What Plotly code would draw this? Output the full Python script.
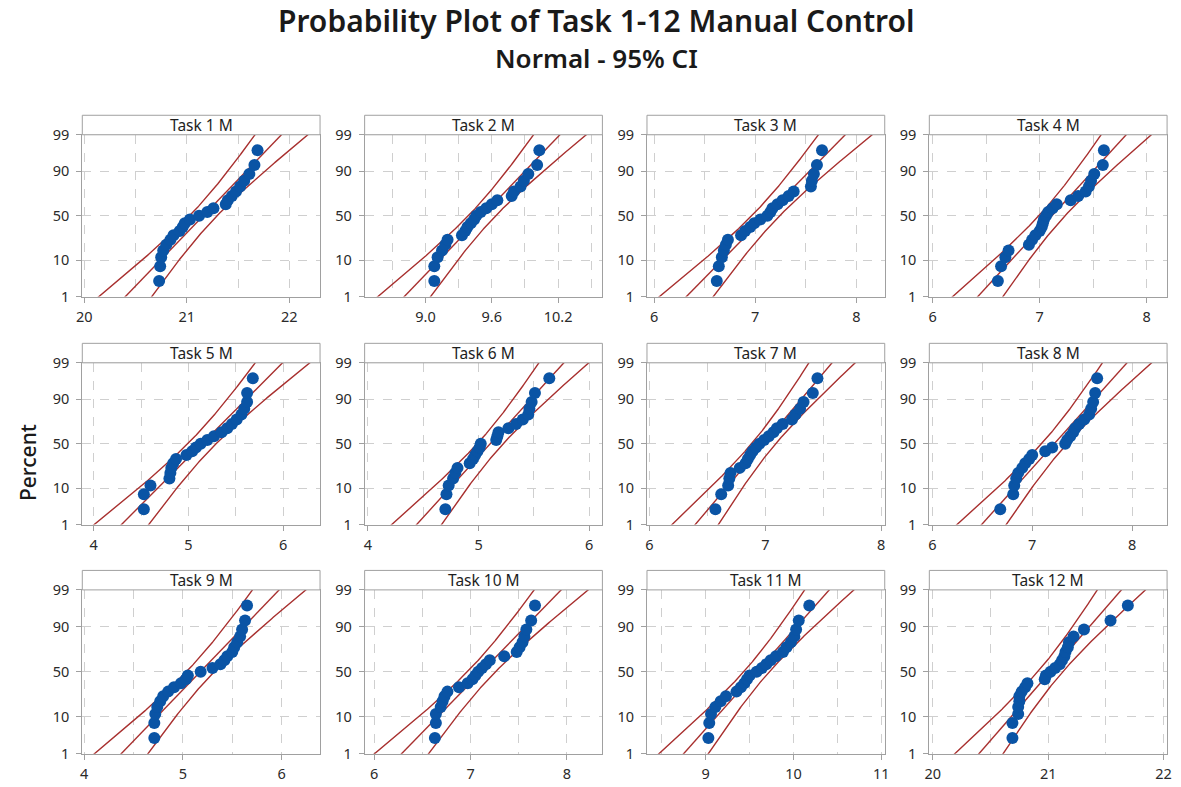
import numpy as np
import plotly.graph_objects as go
from statistics import NormalDist

# ---------------- data ----------------
task_names = ["Task 1 M", "Task 2 M", "Task 3 M", "Task 4 M", "Task 5 M", "Task 6 M",
              "Task 7 M", "Task 8 M", "Task 9 M", "Task 10 M", "Task 11 M", "Task 12 M"]

task1 = [20.73, 20.74, 20.75, 20.77, 20.80, 20.84, 20.87, 20.93, 20.96, 20.98, 21.03, 21.12,
         21.20, 21.26, 21.38, 21.40, 21.44, 21.48, 21.52, 21.56, 21.61, 21.66, 21.69]
task2 = [9.08, 9.08, 9.11, 9.15, 9.18, 9.20, 9.33, 9.36, 9.38, 9.41, 9.44, 9.46,
         9.50, 9.55, 9.60, 9.65, 9.78, 9.80, 9.86, 9.89, 9.93, 10.01, 10.03]
task3 = [6.62, 6.64, 6.67, 6.69, 6.71, 6.73, 6.86, 6.90, 6.95, 6.99, 7.05, 7.12,
         7.15, 7.17, 7.22, 7.27, 7.33, 7.38, 7.55, 7.56, 7.58, 7.61, 7.66]
task4 = [6.61, 6.64, 6.68, 6.71, 6.90, 6.93, 6.96, 7.00, 7.02, 7.03, 7.04, 7.06,
         7.08, 7.12, 7.16, 7.29, 7.36, 7.43, 7.46, 7.48, 7.51, 7.59, 7.60]
task5 = [4.53, 4.53, 4.60, 4.80, 4.81, 4.82, 4.84, 4.87, 4.98, 5.04, 5.08, 5.13,
         5.20, 5.27, 5.35, 5.41, 5.46, 5.51, 5.56, 5.59, 5.62, 5.62, 5.68]
task6 = [4.70, 4.71, 4.73, 4.77, 4.79, 4.81, 4.92, 4.95, 4.97, 4.99, 5.01, 5.02,
         5.16, 5.17, 5.18, 5.27, 5.34, 5.40, 5.45, 5.46, 5.48, 5.51, 5.64]
task7 = [6.57, 6.62, 6.68, 6.69, 6.70, 6.78, 6.83, 6.85, 6.87, 6.89, 6.92, 6.95,
         6.99, 7.03, 7.07, 7.10, 7.15, 7.23, 7.26, 7.30, 7.33, 7.41, 7.45]
task8 = [6.68, 6.81, 6.82, 6.84, 6.86, 6.90, 6.93, 6.97, 7.00, 7.13, 7.20, 7.33,
         7.35, 7.38, 7.41, 7.43, 7.47, 7.52, 7.57, 7.59, 7.61, 7.63, 7.65]
task9 = [4.71, 4.71, 4.72, 4.74, 4.77, 4.80, 4.85, 4.91, 4.98, 5.03, 5.05, 5.18,
         5.30, 5.38, 5.42, 5.45, 5.50, 5.52, 5.55, 5.58, 5.60, 5.63, 5.65]
task10 = [6.63, 6.64, 6.64, 6.69, 6.71, 6.73, 6.76, 6.88, 6.97, 7.02, 7.05, 7.08,
          7.12, 7.16, 7.20, 7.35, 7.48, 7.51, 7.54, 7.56, 7.58, 7.63, 7.67]
task11 = [9.03, 9.04, 9.06, 9.11, 9.17, 9.23, 9.35, 9.40, 9.44, 9.47, 9.50, 9.58,
          9.64, 9.69, 9.74, 9.80, 9.88, 9.92, 9.97, 10.01, 10.03, 10.06, 10.18]
task12 = [20.69, 20.69, 20.74, 20.74, 20.75, 20.75, 20.77, 20.80, 20.82, 20.97, 20.98, 21.02,
          21.06, 21.10, 21.12, 21.14, 21.15, 21.17, 21.18, 21.22, 21.31, 21.54, 21.69]

all_tasks = [task1, task2, task3, task4, task5, task6,
             task7, task8, task9, task10, task11, task12]

# axis tick values / labels per panel
x_major = [[20, 21, 22], [9.0, 9.6, 10.2], [6, 7, 8], [6, 7, 8],
           [4, 5, 6], [4, 5, 6], [6, 7, 8], [6, 7, 8],
           [4, 5, 6], [6, 7, 8], [9, 10, 11], [20, 21, 22]]
x_major_text = [["20", "21", "22"], ["9.0", "9.6", "10.2"], ["6", "7", "8"], ["6", "7", "8"],
                ["4", "5", "6"], ["4", "5", "6"], ["6", "7", "8"], ["6", "7", "8"],
                ["4", "5", "6"], ["6", "7", "8"], ["9", "10", "11"], ["20", "21", "22"]]
x_minor = [[20.5, 21.5], [8.7, 9.3, 9.9, 10.5], [6.5, 7.5], [6.5, 7.5],
           [4.5, 5.5], [4.5, 5.5], [6.5, 7.5], [6.5, 7.5],
           [4.5, 5.5], [6.5, 7.5], [8.5, 9.5, 10.5], [20.5, 21.5]]
x_ranges = [[19.98, 22.30], [8.45, 10.60], [5.93, 8.28], [5.97, 8.19],
            [3.88, 6.39], [3.97, 6.12], [5.98, 8.03], [5.97, 8.35],
            [3.98, 6.39], [5.90, 8.37], [8.33, 11.04], [19.97, 22.03]]
y_percent_ticks = [1, 10, 50, 90, 99]

# ---------------- layout constants ----------------
W, H = 1181, 787
col_left = [77, 362, 647, 932]
panel_w = 240
row_plot_top = [127, 361, 594]
row_plot_bot = [293, 527, 762]
header_h = 20

nd = NormalDist()
zlo, zhi = nd.inv_cdf(0.01), nd.inv_cdf(0.99)
BLUE = "#0A54A5"
RED = "#A8302F"
GRID = "#CFCFCF"
AXIS = "#A0A0A0"
FONT = "Noto Sans"
TXT = "#2a2a2a"

fig = go.Figure()
shapes = []
annotations = []

zz = np.linspace(zlo - 0.05, zhi + 0.05, 200)

for k, vals in enumerate(all_tasks):
    r, c = divmod(k, 4)
    idx = "" if k == 0 else str(k + 1)
    xa, ya = "x" + idx, "y" + idx
    x = np.sort(np.array(vals, dtype=float))
    n = len(x)
    pr = (np.arange(1, n + 1) - 0.3) / (n + 0.4)
    zq = np.array([nd.inv_cdf(p) for p in pr])
    mu = x.mean()
    sd = x.std(ddof=0)
    fit = mu + sd * zz
    half = 1.96 * sd * np.sqrt((1 + zz ** 2 / 2) / n)

    for line in (fit - half, fit, fit + half):
        fig.add_trace(go.Scatter(x=line, y=zz, mode="lines", xaxis=xa, yaxis=ya,
                                 line=dict(color=RED, width=1.4), hoverinfo="skip",
                                 showlegend=False))
    fig.add_trace(go.Scatter(x=x, y=zq, mode="markers", xaxis=xa, yaxis=ya,
                             marker=dict(color=BLUE, size=12), showlegend=False))

    x0 = col_left[c] / W
    x1 = (col_left[c] + panel_w) / W
    y0 = 1 - row_plot_bot[r] / H
    y1 = 1 - row_plot_top[r] / H
    grid_common = dict(showgrid=True, gridcolor=GRID, griddash="dash", gridwidth=1)
    fig.layout["xaxis" + idx] = dict(
        domain=[x0, x1], anchor=ya, range=x_ranges[k],
        tickmode="array", tickvals=x_major[k], ticktext=x_major_text[k],
        ticks="outside", ticklen=5, tickcolor=AXIS, showline=True, linecolor=AXIS,
        linewidth=1, mirror=True, zeroline=False, ticklabelstandoff=2,
        tickfont=dict(family=FONT, size=14.5, color=TXT),
        minor=dict(tickvals=x_minor[k], showgrid=True, gridcolor=GRID,
                   griddash="dash", ticklen=0),
        **grid_common)
    fig.layout["yaxis" + idx] = dict(
        domain=[y0, y1], anchor=xa, range=[zlo, zhi],
        tickmode="array", tickvals=[nd.inv_cdf(p / 100) for p in y_percent_ticks],
        ticktext=[str(p) for p in y_percent_ticks],
        ticks="outside", ticklen=5, tickcolor=AXIS, showline=True, linecolor=AXIS,
        linewidth=1, mirror=True, zeroline=False, ticklabelstandoff=4,
        tickfont=dict(family=FONT, size=14.5, color=TXT),
        **grid_common)

    # header strip
    hy0 = 1 - row_plot_top[r] / H
    hy1 = 1 - (row_plot_top[r] - header_h) / H
    shapes.append(dict(type="rect", xref="paper", yref="paper", x0=x0, x1=x1,
                       y0=hy0, y1=hy1, fillcolor="white",
                       line=dict(color=AXIS, width=1), layer="above"))
    annotations.append(dict(text=task_names[k], xref="paper", yref="paper",
                            x=(x0 + x1) / 2, y=(hy0 + hy1) / 2, showarrow=False,
                            xanchor="center", yanchor="middle",
                            font=dict(family=FONT, size=15.5, color="#1e1e1e")))

annotations.append(dict(text="Probability Plot of Task 1-12 Manual Control", xref="paper",
                        yref="paper", x=596 / W, y=1 - 10 / H, showarrow=False,
                        xanchor="center", yanchor="middle",
                        font=dict(family=FONT, size=30, color="#1a1a1a", weight=600)))
annotations.append(dict(text="Normal - 95% CI", xref="paper", yref="paper",
                        x=596 / W, y=1 - 48 / H, showarrow=False,
                        xanchor="center", yanchor="middle",
                        font=dict(family=FONT, size=26, color="#1a1a1a", weight=600)))
annotations.append(dict(text="Percent", xref="paper", yref="paper",
                        x=22 / W, y=1 - 463 / H, showarrow=False, textangle=-90,
                        xanchor="center", yanchor="middle",
                        font=dict(family=FONT, size=21, color="#1a1a1a", weight=500)))

fig.update_layout(width=W, height=H, margin=dict(l=0, r=0, t=0, b=0),
                  paper_bgcolor="white", plot_bgcolor="white",
                  shapes=shapes, annotations=annotations, showlegend=False)

fig.write_html("out.html")
